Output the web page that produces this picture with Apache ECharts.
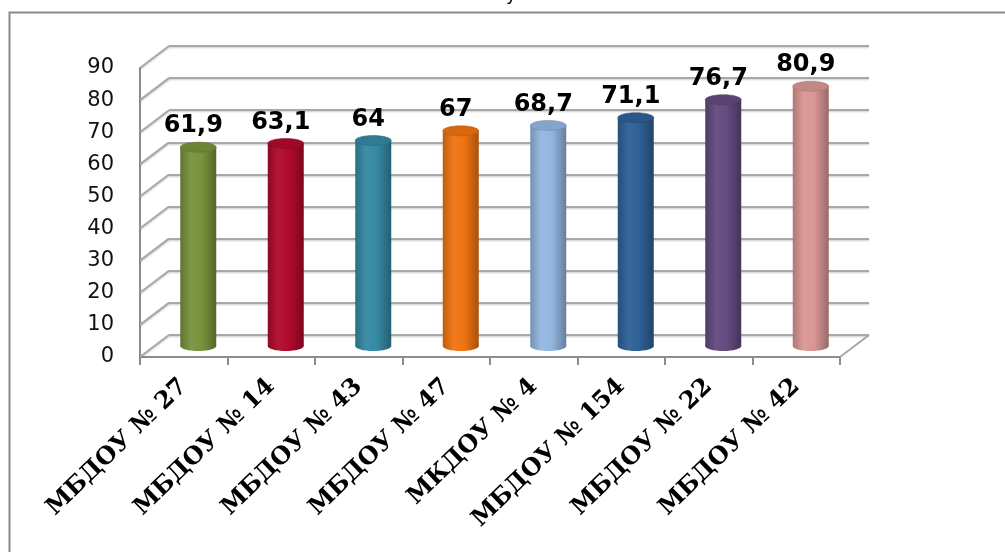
<!DOCTYPE html>
<html>
<head>
<meta charset="utf-8">
<script src="https://cdn.jsdelivr.net/npm/echarts@6/dist/echarts.min.js"></script>
<style>html,body{margin:0;padding:0;background:#fff;}#c{width:1005px;height:552px;}</style>
</head>
<body>
<div id="c"></div>
<script>
const categories = ['МБДОУ № 27','МБДОУ № 14','МБДОУ № 43','МБДОУ № 47','МКДОУ № 4','МБДОУ № 154','МБДОУ № 22','МБДОУ № 42'];
const values = [61.9, 63.1, 64, 67, 68.7, 71.1, 76.7, 80.9];
const barColors = ['#77933C','#B00A2C','#3589A3','#EF7412','#93B6E0','#2F6197','#634A80','#D99694'];
const yTicks = [0,10,20,30,40,50,60,70,80,90];

function shade(hex, f) {
  const n = parseInt(hex.slice(1), 16);
  let r = (n >> 16) & 255, g = (n >> 8) & 255, b = n & 255;
  if (f < 0) { r *= (1 + f); g *= (1 + f); b *= (1 + f); }
  else { r += (255 - r) * f; g += (255 - g) * f; b += (255 - b) * f; }
  return 'rgb(' + Math.round(r) + ',' + Math.round(g) + ',' + Math.round(b) + ')';
}
function bodyGrad(c) {
  return new echarts.graphic.LinearGradient(0, 0, 1, 0, [
    {offset: 0, color: shade(c, -0.2)},
    {offset: 0.3, color: shade(c, 0.05)},
    {offset: 0.6, color: c},
    {offset: 1, color: shade(c, -0.3)}
  ]);
}
const DX = 29, DY = -22;
const gridLine = {color: '#a8a8a8', width: 2, shadowColor: 'rgba(0,0,0,0.2)', shadowBlur: 2, shadowOffsetY: 1};

const chart = echarts.init(document.getElementById('c'), null, {renderer: 'canvas'});
chart.setOption({
  animation: false,
  backgroundColor: '#ffffff',
  graphic: [
    {type: 'rect', shape: {x: 9.5, y: 12.5, width: 1100, height: 700}, style: {fill: 'none', stroke: '#8a8a8a', lineWidth: 2}, z: 0},
    {type: 'text', left: 506, top: -14, style: {text: 'у', font: '18px "DejaVu Sans"', fill: '#000'}}
  ],
  grid: [
    {left: 140, right: 165, top: 68, bottom: 195},
    {left: 169, right: 136, top: 46, bottom: 217},
    {left: 154.5, right: 150.5, top: 57, bottom: 206}
  ],
  xAxis: [
    {type: 'category', gridIndex: 0, data: categories,
      axisLine: {lineStyle: {color: '#8c8c8c', width: 2}},
      axisTick: {show: true, length: 8, lineStyle: {color: '#8c8c8c', width: 2}},
      axisLabel: {interval: 0, rotate: 44, margin: 26, fontFamily: 'DejaVu Serif', fontWeight: 'bold', fontSize: 24, color: '#000'}},
    {type: 'category', gridIndex: 1, data: categories, show: false},
    {type: 'category', gridIndex: 2, data: categories, show: false}
  ],
  yAxis: [
    {type: 'value', gridIndex: 0, min: 0, max: 90, interval: 10,
      axisLine: {show: true, lineStyle: {color: '#8c8c8c', width: 2}},
      axisTick: {show: false},
      splitLine: {show: false},
      axisLabel: {margin: 26, fontFamily: 'DejaVu Sans', fontSize: 21, color: '#111', padding: [0, 0, 4, 0]}},
    {type: 'value', gridIndex: 1, min: 0, max: 90, interval: 10,
      axisLine: {show: false}, axisTick: {show: false}, axisLabel: {show: false},
      splitLine: {show: true, lineStyle: gridLine}},
    {type: 'value', gridIndex: 2, min: 0, max: 90, interval: 10, show: false, splitLine: {show: false}}
  ],
  series: [
    {
      type: 'custom', xAxisIndex: 0, yAxisIndex: 0, z: 1, silent: true,
      data: yTicks.map(v => [0, v]),
      renderItem: function (params, api) {
        const cs = params.coordSys;
        const y = api.coord([0, api.value(1)])[1];
        const kids = [{type: 'line', shape: {x1: cs.x, y1: y, x2: cs.x + DX, y2: y + DY}, style: {stroke: '#a8a8a8', lineWidth: 2, shadowColor: 'rgba(0,0,0,0.2)', shadowBlur: 2, shadowOffsetY: 1}}];
        if (api.value(1) === 0) {
          kids.push({type: 'line', shape: {x1: cs.x + cs.width, y1: y, x2: cs.x + cs.width + DX, y2: y + DY}, style: {stroke: '#a8a8a8', lineWidth: 2}});
        }
        return {type: 'group', children: kids};
      }
    },
    {
      type: 'custom', xAxisIndex: 2, yAxisIndex: 2, z: 5, silent: true,
      data: values.map((v, i) => [i, v]),
      renderItem: function (params, api) {
        const i = api.value(0), v = api.value(1);
        const top = api.coord([i, v]);
        const base = api.coord([i, 0]);
        const w = 36, rx = w / 2, ry = 5;
        const c = barColors[i];
        const x0 = top[0] - rx;
        return {type: 'group', children: [
          {type: 'ellipse', shape: {cx: top[0], cy: base[1], rx: rx, ry: ry}, style: {fill: bodyGrad(c)}},
          {type: 'rect', shape: {x: x0, y: top[1], width: w, height: base[1] - top[1]}, style: {fill: bodyGrad(c)}},
          {type: 'ellipse', shape: {cx: top[0], cy: top[1], rx: rx, ry: ry}, style: {fill: shade(c, -0.1), stroke: shade(c, -0.25), lineWidth: 0.5}},
          {type: 'text', x: top[0] - 5, y: top[1] - 21, style: {text: String(v).replace('.', ','), font: 'bold 24px "DejaVu Sans"', fill: '#000', align: 'center', verticalAlign: 'middle'}}
        ]};
      }
    }
  ]
});
</script>
</body>
</html>
